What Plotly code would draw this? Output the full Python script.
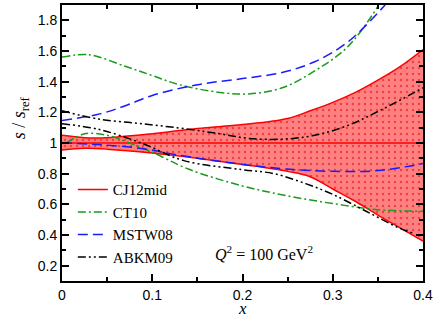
import plotly.graph_objects as go

# CJ12mid band (ratio to reference)
x_cj = [0, 0.025, 0.05, 0.1, 0.15, 0.2, 0.25, 0.275, 0.3, 0.325, 0.35, 0.375, 0.4]
cj_upper = [1.05, 1.035, 1.035, 1.06, 1.095, 1.12, 1.16, 1.21, 1.265, 1.33, 1.41, 1.5, 1.61]
cj_lower = [0.955, 0.965, 0.96, 0.935, 0.9, 0.86, 0.815, 0.78, 0.7, 0.62, 0.53, 0.445, 0.36]
cj_mid = [1.0] * len(x_cj)

# CT10
x_ct_up = [0, 0.03, 0.07, 0.1, 0.13, 0.175, 0.207, 0.244, 0.28, 0.317, 0.35]
ct_upper = [1.56, 1.575, 1.5, 1.44, 1.38, 1.33, 1.32, 1.36, 1.47, 1.63, 1.89]
x_ct_lo = [0.005, 0.025, 0.05, 0.075, 0.1, 0.14, 0.2, 0.25, 0.3, 0.35, 0.4]
ct_lower = [1.0, 1.06, 1.05, 1.0, 0.94, 0.83, 0.72, 0.655, 0.605, 0.565, 0.555]

# MSTW08
x_mstw_up = [0, 0.042, 0.071, 0.1, 0.15, 0.2, 0.244, 0.28, 0.317, 0.358]
mstw_upper = [1.146, 1.19, 1.245, 1.31, 1.38, 1.42, 1.46, 1.53, 1.66, 1.9]
x_mstw_lo = [0, 0.04, 0.09, 0.13, 0.2, 0.25, 0.3, 0.35, 0.4]
mstw_lower = [1.0, 0.99, 0.963, 0.92, 0.86, 0.83, 0.815, 0.82, 0.866]

# ABKM09
x_abkm_up = [0, 0.04, 0.09, 0.14, 0.175, 0.207, 0.244, 0.28, 0.317, 0.355, 0.4]
abkm_upper = [1.21, 1.157, 1.125, 1.09, 1.06, 1.03, 1.025, 1.05, 1.115, 1.22, 1.36]
x_abkm_lo = [0, 0.04, 0.09, 0.135, 0.2, 0.235, 0.27, 0.3, 0.337, 0.373, 0.39]
abkm_lower = [1.125, 1.09, 0.995, 0.885, 0.826, 0.8, 0.735, 0.665, 0.555, 0.447, 0.41]

x_ticks = [0, 0.1, 0.2, 0.3, 0.4]
x_ticklabels = ['0', '0.1', '0.2', '0.3', '0.4']
y_ticks = [0.2, 0.4, 0.6, 0.8, 1, 1.2, 1.4, 1.6, 1.8]
y_ticklabels = ['0.2', '0.4', '0.6', '0.8', '1', '1.2', '1.4', '1.6', '1.8']

SERIF = 'Liberation Serif'
SANS = 'Liberation Sans'
GREEN_DASH = '8px,3px,2px,3px'
BLUE_DASH = '10px,5px'
BLACK_DASH = '8px,3px,2px,3px,2px,3px'

fig = go.Figure()

# band
fig.add_trace(go.Scatter(
    x=x_cj, y=cj_lower, mode='lines', line=dict(color='red', width=1.5),
    line_shape='spline', showlegend=False, hoverinfo='skip'))
fig.add_trace(go.Scatter(
    x=x_cj, y=cj_upper, mode='lines', line=dict(color='red', width=1.5),
    line_shape='spline', fill='tonexty', fillcolor='#ff8080',
    fillpattern=dict(shape='.', bgcolor='#ff8080', fgcolor='#e00000',
                     size=6, solidity=0.12),
    showlegend=False, hoverinfo='skip'))
fig.add_trace(go.Scatter(
    x=x_cj, y=cj_mid, mode='lines', name='CJ12mid',
    line=dict(color='red', width=1.5)))

curves = [
    ('CT10', x_ct_up, ct_upper, x_ct_lo, ct_lower, '#1a9a1a', GREEN_DASH),
    ('MSTW08', x_mstw_up, mstw_upper, x_mstw_lo, mstw_lower, '#1a1aff', BLUE_DASH),
    ('ABKM09', x_abkm_up, abkm_upper, x_abkm_lo, abkm_lower, 'black', BLACK_DASH),
]
for name, xu, yu, xl, yl, color, dash in curves:
    fig.add_trace(go.Scatter(
        x=xl, y=yl, mode='lines', name=name, line_shape='spline',
        line=dict(color=color, width=1.5, dash=dash)))
    fig.add_trace(go.Scatter(
        x=xu, y=yu, mode='lines', name=name, line_shape='spline',
        line=dict(color=color, width=1.5, dash=dash), showlegend=False))

axis_common = dict(
    showgrid=False, zeroline=False, showline=True, linecolor='black',
    linewidth=2, mirror='allticks', ticks='inside', ticklen=7, tickwidth=1.5,
    tickcolor='black', tickfont=dict(family=SANS, size=14, color='black'),
)

fig.update_xaxes(
    range=[0, 0.4], tickvals=x_ticks, ticktext=x_ticklabels,
    minor=dict(ticks='inside', ticklen=4, tickvals=[0.05, 0.15, 0.25, 0.35],
               tickcolor='black'),
    **axis_common)
fig.update_yaxes(
    range=[0.1, 1.9], tickvals=y_ticks, ticktext=y_ticklabels,
    minor=dict(ticks='inside', ticklen=4, dtick=0.1, tickcolor='black'),
    **axis_common)

fig.add_annotation(
    text='<i>Q</i><sup>2</sup> = 100 GeV<sup>2</sup>',
    x=0.167, y=0.284, xref='x', yref='y', xanchor='left', yanchor='middle',
    showarrow=False, font=dict(family=SERIF, size=16, color='black'))
fig.add_annotation(
    text='<i>s</i> / <i>s</i><sub>ref</sub>', textangle=-90,
    x=-0.116, y=0.59, xref='paper', yref='paper',
    xanchor='center', yanchor='middle', showarrow=False,
    font=dict(family=SERIF, size=18, color='black'))
fig.add_annotation(
    text='<i>x</i>', x=0.5, y=-0.1, xref='paper', yref='paper',
    xanchor='center', yanchor='middle', showarrow=False,
    font=dict(family=SERIF, size=17, color='black'))

fig.update_layout(
    width=436, height=320,
    margin=dict(l=62, r=12, t=3, b=39),
    plot_bgcolor='white', paper_bgcolor='white',
    legend=dict(x=0.03, y=0.39, xanchor='left', yanchor='top',
                traceorder='normal',
                bgcolor='rgba(0,0,0,0)', tracegroupgap=0,
                font=dict(family=SERIF, size=15, color='black')),
)

# drop the default page margin so the figure sits at the window's corner
fig.write_html('out.html', config={'displayModeBar': False},
               post_script="document.body.style.margin='0';")
